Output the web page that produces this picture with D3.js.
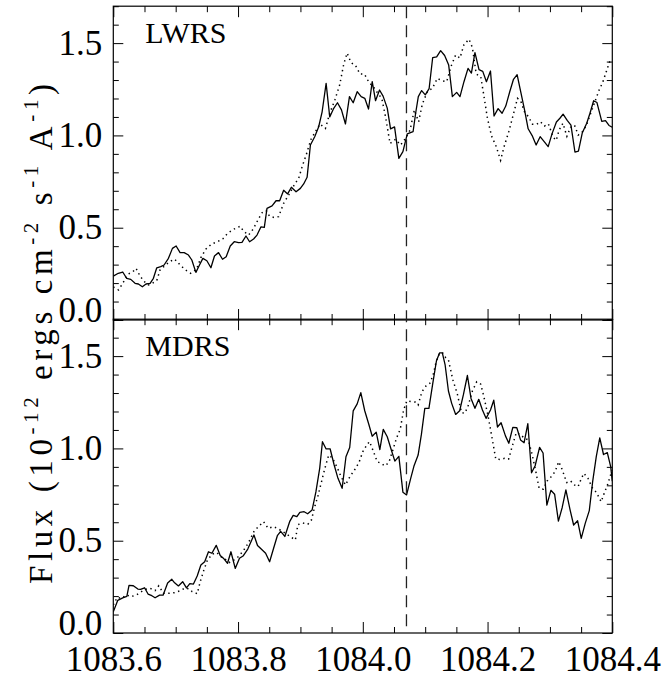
<!DOCTYPE html>
<html>
<head>
<meta charset="utf-8">
<script src="https://cdn.jsdelivr.net/npm/d3@7"></script>
<style>
  body { margin: 0; background: #fff; }
  svg { display: block; }
  text { font-family: "Liberation Serif", "Times New Roman", serif; fill: #000; }
</style>
</head>
<body>
<svg id="chart" width="665" height="688"></svg>
<script>
// ---- data: flux (1e-12 erg cm^-2 s^-1 A^-1) against wavelength (A) ----
const xTicks = [1083.6, 1083.8, 1084.0, 1084.2, 1084.4];
const yTicks = [0.0, 0.5, 1.0, 1.5];
const markerWave = 1084.07;
const panelNames = ["LWRS", "MDRS"];

const lwrsSolidWave = [1083.6000,1083.6080,1083.6151,1083.6215,1083.6280,1083.6349,1083.6402,1083.6466,1083.6525,1083.6590,1083.6643,1083.6697,1083.6761,1083.6814,1083.6884,1083.6948,1083.7007,1083.7071,1083.7136,1083.7205,1083.7259,1083.7324,1083.7382,1083.7436,1083.7500,1083.7565,1083.7622,1083.7687,1083.7751,1083.7810,1083.7875,1083.7939,1083.8008,1083.8063,1083.8127,1083.8185,1083.8249,1083.8304,1083.8368,1083.8421,1083.8464,1083.8545,1083.8609,1083.8667,1083.8731,1083.8795,1083.8855,1083.8930,1083.8999,1083.9052,1083.9107,1083.9160,1083.9229,1083.9293,1083.9348,1083.9412,1083.9470,1083.9534,1083.9594,1083.9658,1083.9722,1083.9786,1083.9846,1083.9910,1083.9974,1084.0032,1084.0092,1084.0151,1084.0204,1084.0268,1084.0325,1084.0392,1084.0445,1084.0509,1084.0578,1084.0643,1084.0713,1084.0806,1084.0847,1084.0890,1084.0943,1084.1002,1084.1063,1084.1120,1084.1184,1084.1248,1084.1312,1084.1377,1084.1436,1084.1505,1084.1558,1084.1622,1084.1687,1084.1741,1084.1798,1084.1863,1084.1923,1084.1982,1084.2047,1084.2104,1084.2169,1084.2233,1084.2292,1084.2357,1084.2416,1084.2474,1084.2533,1084.2593,1084.2651,1084.2715,1084.2779,1084.2843,1084.2908,1084.2972,1084.3036,1084.3104,1084.3160,1084.3211,1084.3277,1084.3337,1084.3401,1084.3457,1084.3518,1084.3590,1084.3642,1084.3701,1084.3754,1084.3831,1084.3891,1084.3947,1084.4000];
const lwrsSolidFlux = [0.238,0.253,0.260,0.226,0.220,0.199,0.195,0.180,0.195,0.199,0.226,0.283,0.289,0.298,0.334,0.388,0.401,0.365,0.365,0.352,0.325,0.258,0.298,0.334,0.321,0.283,0.347,0.365,0.329,0.343,0.401,0.424,0.419,0.421,0.455,0.424,0.439,0.460,0.505,0.502,0.605,0.618,0.646,0.646,0.703,0.683,0.719,0.695,0.713,0.737,0.773,0.948,0.993,1.047,1.128,1.282,1.100,1.147,1.177,1.138,1.062,1.210,1.177,1.237,1.210,1.201,1.143,1.291,1.188,1.246,1.213,1.148,1.035,1.046,0.876,0.912,1.008,1.020,1.120,1.210,1.243,1.220,1.253,1.421,1.425,1.459,1.433,1.381,1.210,1.233,1.210,1.291,1.363,1.338,1.449,1.356,1.347,1.291,1.349,1.105,1.145,1.120,1.159,1.238,1.304,1.329,1.235,1.138,1.036,0.999,0.948,0.993,0.966,0.939,1.011,1.073,1.093,1.115,1.081,1.056,0.910,0.915,1.013,1.066,1.120,1.188,1.178,1.076,1.080,1.054,1.044];

const lwrsDotWave = [1083.6000,1083.6084,1083.6164,1083.6241,1083.6316,1083.6365,1083.6429,1083.6493,1083.6565,1083.6622,1083.6697,1083.6750,1083.6822,1083.6903,1083.6983,1083.7063,1083.7152,1083.7240,1083.7333,1083.7406,1083.7486,1083.7578,1083.7666,1083.7754,1083.7835,1083.7934,1083.8035,1083.8088,1083.8169,1083.8244,1083.8316,1083.8381,1083.8450,1083.8506,1083.8582,1083.8651,1083.8731,1083.8818,1083.8900,1083.8972,1083.9031,1083.9096,1083.9168,1083.9240,1083.9312,1083.9401,1083.9470,1083.9553,1083.9629,1083.9695,1083.9749,1083.9810,1083.9883,1083.9955,1084.0027,1084.0104,1084.0164,1084.0236,1084.0305,1084.0365,1084.0437,1084.0525,1084.0606,1084.0686,1084.0758,1084.0826,1084.0895,1084.0954,1084.1034,1084.1115,1084.1195,1084.1269,1084.1345,1084.1417,1084.1489,1084.1558,1084.1622,1084.1703,1084.1757,1084.1818,1084.1891,1084.1934,1084.1998,1084.2063,1084.2140,1084.2209,1084.2265,1084.2341,1084.2413,1084.2480,1084.2533,1084.2593,1084.2654,1084.2721,1084.2787,1084.2847,1084.2912,1084.2975,1084.3055,1084.3100,1084.3148,1084.3208,1084.3272,1084.3329,1084.3393,1084.3454,1084.3513,1084.3582,1084.3658,1084.3714,1084.3791,1084.3846,1084.3903,1084.3952,1084.4000];
const lwrsDotFlux = [0.179,0.163,0.206,0.249,0.262,0.280,0.238,0.209,0.190,0.198,0.214,0.271,0.293,0.316,0.330,0.301,0.272,0.253,0.274,0.339,0.385,0.412,0.424,0.439,0.470,0.492,0.508,0.481,0.460,0.493,0.540,0.580,0.593,0.562,0.555,0.560,0.632,0.681,0.731,0.768,0.834,0.898,0.978,1.020,1.062,1.038,1.120,1.193,1.273,1.387,1.446,1.395,1.379,1.333,1.332,1.284,1.267,1.230,1.200,1.100,0.956,0.979,0.948,0.984,1.029,1.138,1.074,1.169,1.237,1.255,1.309,1.296,1.291,1.376,1.436,1.419,1.492,1.521,1.476,1.333,1.318,1.230,1.093,0.998,0.939,0.865,0.939,1.021,1.113,1.201,1.185,1.128,1.102,1.061,1.060,1.074,1.051,1.063,0.989,0.973,1.029,1.066,0.995,1.043,1.056,1.002,1.016,1.052,1.124,1.176,1.248,1.287,1.345,1.395,1.414];

const mdrsSolidWave = [1083.6000,1083.6072,1083.6151,1083.6217,1083.6252,1083.6321,1083.6394,1083.6437,1083.6501,1083.6557,1083.6618,1083.6670,1083.6742,1083.6798,1083.6871,1083.6938,1083.6983,1083.7044,1083.7112,1083.7173,1083.7227,1083.7285,1083.7345,1083.7404,1083.7465,1083.7526,1083.7581,1083.7650,1083.7714,1083.7774,1083.7831,1083.7886,1083.7955,1083.8023,1083.8080,1083.8156,1083.8255,1083.8312,1083.8384,1083.8442,1083.8506,1083.8570,1083.8630,1083.8683,1083.8750,1083.8827,1083.8884,1083.8943,1083.8991,1083.9059,1083.9116,1083.9187,1083.9248,1083.9309,1083.9353,1083.9412,1083.9476,1083.9541,1083.9602,1083.9669,1083.9730,1083.9790,1083.9846,1083.9910,1083.9968,1084.0031,1084.0096,1084.0151,1084.0215,1084.0273,1084.0328,1084.0392,1084.0456,1084.0514,1084.0578,1084.0643,1084.0702,1084.0766,1084.0819,1084.0887,1084.0940,1084.0994,1084.1060,1084.1120,1084.1181,1084.1232,1084.1275,1084.1320,1084.1373,1084.1425,1084.1489,1084.1553,1084.1613,1084.1677,1084.1735,1084.1798,1084.1859,1084.1918,1084.1976,1084.2047,1084.2100,1084.2159,1084.2217,1084.2287,1084.2341,1084.2405,1084.2469,1084.2529,1084.2586,1084.2646,1084.2705,1084.2763,1084.2834,1084.2890,1084.2951,1084.3015,1084.3075,1084.3136,1084.3197,1084.3256,1084.3324,1084.3380,1084.3444,1084.3502,1084.3566,1084.3631,1084.3685,1084.3743,1084.3799,1084.3859,1084.3920,1084.3974,1084.4000];
const mdrsSolidFlux = [0.115,0.177,0.190,0.198,0.258,0.256,0.238,0.236,0.245,0.211,0.202,0.191,0.205,0.205,0.271,0.291,0.272,0.255,0.278,0.244,0.267,0.265,0.309,0.368,0.386,0.440,0.432,0.475,0.420,0.402,0.378,0.440,0.350,0.405,0.417,0.455,0.531,0.474,0.451,0.432,0.386,0.459,0.527,0.551,0.523,0.603,0.637,0.630,0.654,0.657,0.646,0.666,0.764,0.892,1.036,0.997,0.998,0.910,0.838,0.784,0.955,1.005,1.203,1.241,1.302,1.204,1.131,1.066,1.088,0.993,1.103,1.063,0.993,0.931,0.957,0.763,0.748,0.835,0.903,0.964,1.077,1.217,1.217,1.348,1.475,1.518,1.518,1.452,1.311,1.244,1.184,1.204,1.291,1.395,1.271,1.217,1.266,1.208,1.163,1.208,1.261,1.116,1.139,1.068,1.028,1.114,1.112,1.046,1.031,1.134,0.868,0.906,1.006,0.975,0.693,0.773,0.752,0.606,0.680,0.775,0.666,0.585,0.608,0.513,0.594,0.663,0.820,0.955,1.057,0.967,0.977,0.901,0.823];

const mdrsDotWave = [1083.6000,1083.6064,1083.6135,1083.6209,1083.6288,1083.6376,1083.6469,1083.6533,1083.6590,1083.6670,1083.6729,1083.6803,1083.6895,1083.6991,1083.7080,1083.7152,1083.7224,1083.7264,1083.7345,1083.7398,1083.7452,1083.7505,1083.7581,1083.7658,1083.7730,1083.7778,1083.7859,1083.7931,1083.8003,1083.8084,1083.8169,1083.8260,1083.8333,1083.8410,1083.8482,1083.8570,1083.8651,1083.8742,1083.8831,1083.8919,1083.8959,1083.9039,1083.9120,1083.9176,1083.9229,1083.9280,1083.9337,1083.9390,1083.9454,1083.9513,1083.9589,1083.9647,1083.9722,1083.9794,1083.9867,1083.9939,1084.0000,1084.0067,1084.0108,1084.0172,1084.0231,1084.0296,1084.0353,1084.0418,1084.0477,1084.0541,1084.0601,1084.0654,1084.0707,1084.0779,1084.0839,1084.0887,1084.0948,1084.1015,1084.1075,1084.1128,1084.1176,1084.1224,1084.1275,1084.1328,1084.1373,1084.1444,1084.1516,1084.1582,1084.1634,1084.1685,1084.1757,1084.1826,1084.1891,1084.1944,1084.2008,1084.2071,1084.2132,1084.2207,1084.2272,1084.2337,1084.2394,1084.2461,1084.2525,1084.2593,1084.2654,1084.2713,1084.2769,1084.2827,1084.2895,1084.2956,1084.3020,1084.3083,1084.3141,1084.3195,1084.3269,1084.3332,1084.3385,1084.3452,1084.3505,1084.3545,1084.3610,1084.3677,1084.3746,1084.3822,1084.3871,1084.3928,1084.3984,1084.4000];
const mdrsDotFlux = [0.152,0.193,0.188,0.206,0.197,0.207,0.228,0.238,0.242,0.230,0.256,0.215,0.215,0.219,0.230,0.244,0.238,0.224,0.213,0.283,0.341,0.391,0.427,0.436,0.412,0.405,0.382,0.395,0.413,0.445,0.490,0.553,0.578,0.603,0.567,0.576,0.563,0.544,0.523,0.504,0.587,0.596,0.589,0.612,0.684,0.742,0.818,0.890,0.964,0.948,0.897,0.850,0.802,0.847,0.883,0.924,0.982,1.020,1.037,0.982,0.928,0.919,0.905,0.924,0.986,1.056,1.105,1.208,1.258,1.253,1.251,1.235,1.307,1.339,1.353,1.398,1.470,1.510,1.520,1.492,1.479,1.371,1.294,1.194,1.190,1.226,1.311,1.361,1.348,1.276,1.176,1.059,0.942,0.940,0.946,0.942,1.009,1.086,1.075,1.055,1.046,0.969,0.883,0.784,0.779,0.824,0.847,0.874,0.928,0.887,0.815,0.824,0.803,0.793,0.838,0.865,0.838,0.788,0.761,0.711,0.758,0.807,0.869,0.883];

// ---- layout ----
const svg = d3.select("#chart");
const plotLeft = 113.3, plotRight = 612.3;
const panels = [
  { name: panelNames[0], top: 6.2, bottom: 320,
    solid: d3.zip(lwrsSolidWave, lwrsSolidFlux), dotted: d3.zip(lwrsDotWave, lwrsDotFlux), showX: false },
  { name: panelNames[1], top: 319.2, bottom: 633,
    solid: d3.zip(mdrsSolidWave, mdrsSolidFlux), dotted: d3.zip(mdrsDotWave, mdrsDotFlux), showX: true }
];

const x = d3.scaleLinear().domain([xTicks[0], xTicks[xTicks.length - 1]]).range([plotLeft, plotRight]);
const xMinor = d3.range(0, 17).map(i => 1083.6 + i * 0.05).filter(v => !xTicks.some(t => Math.abs(t - v) < 1e-6));
const yMinor = d3.range(0, 18).map(i => i * 0.1).filter(v => !yTicks.some(t => Math.abs(t - v) < 1e-6));

const fmt = d3.format(".1f");
const majorX = 11, minorX = 6, majorY = 10, minorY = 5.5;

function styleAxis(g) {
  g.select(".domain").remove();
  g.selectAll(".tick line").attr("stroke", "#000").attr("stroke-width", 1);
  g.selectAll(".tick text").attr("font-size", 35).attr("font-family", "Liberation Serif, serif").attr("fill", "#000");
}

panels.forEach((p, i) => {
  const y = d3.scaleLinear().domain([0, 1.7]).range([p.bottom, p.top]);
  const h = p.bottom - p.top;
  const clipId = "clip" + i;
  svg.append("clipPath").attr("id", clipId)
    .append("rect").attr("x", plotLeft).attr("y", p.top).attr("width", plotRight - plotLeft).attr("height", h);

  // left axis with labels
  const gl = svg.append("g").attr("transform", `translate(${plotLeft},0)`)
    .call(d3.axisLeft(y).tickValues(yTicks).tickFormat(fmt).tickSizeInner(-majorY).tickSizeOuter(0).tickPadding(11));
  styleAxis(gl);
  gl.selectAll(".tick text").filter(d => d === 0).attr("transform", "translate(0,-10)");
  const glm = svg.append("g").attr("transform", `translate(${plotLeft},0)`)
    .call(d3.axisLeft(y).tickValues(yMinor).tickFormat("").tickSizeInner(-minorY).tickSizeOuter(0));
  styleAxis(glm);

  // right axis, ticks only
  const gr = svg.append("g").attr("transform", `translate(${plotRight},0)`)
    .call(d3.axisRight(y).tickValues(yTicks).tickFormat("").tickSizeInner(-majorY).tickSizeOuter(0));
  styleAxis(gr);
  const grm = svg.append("g").attr("transform", `translate(${plotRight},0)`)
    .call(d3.axisRight(y).tickValues(yMinor).tickFormat("").tickSizeInner(-minorY).tickSizeOuter(0));
  styleAxis(grm);

  // bottom axis
  const gb = svg.append("g").attr("transform", `translate(0,${p.bottom})`)
    .call(d3.axisBottom(x).tickValues(xTicks).tickFormat(p.showX ? fmt : "").tickSizeInner(-majorX).tickSizeOuter(0).tickPadding(13));
  styleAxis(gb);
  const gbm = svg.append("g").attr("transform", `translate(0,${p.bottom})`)
    .call(d3.axisBottom(x).tickValues(xMinor).tickFormat("").tickSizeInner(-minorX).tickSizeOuter(0));
  styleAxis(gbm);

  // top axis, ticks only
  const gt = svg.append("g").attr("transform", `translate(0,${p.top})`)
    .call(d3.axisTop(x).tickValues(xTicks).tickFormat("").tickSizeInner(-majorX).tickSizeOuter(0));
  styleAxis(gt);
  const gtm = svg.append("g").attr("transform", `translate(0,${p.top})`)
    .call(d3.axisTop(x).tickValues(xMinor).tickFormat("").tickSizeInner(-minorX).tickSizeOuter(0));
  styleAxis(gtm);

  // frame
  svg.append("rect").attr("x", plotLeft).attr("y", p.top).attr("width", plotRight - plotLeft).attr("height", h)
    .attr("fill", "none").attr("stroke", "#000").attr("stroke-width", 1.2);

  const line = d3.line().x(d => x(d[0])).y(d => y(d[1]));
  const lines = svg.append("g").attr("clip-path", `url(#${clipId})`);
  lines.append("path").datum(p.dotted).attr("d", line)
    .attr("fill", "none").attr("stroke", "#000").attr("stroke-width", 1.5)
    .attr("stroke-dasharray", "1.4 3.6");
  lines.append("path").datum(p.solid).attr("d", line)
    .attr("fill", "none").attr("stroke", "#000").attr("stroke-width", 1.3)
    .attr("stroke-linejoin", "round");

  // panel name
  svg.append("text").attr("x", plotLeft + 32).attr("y", p.top + 37)
    .attr("font-size", 30).text(p.name);
});

// rest wavelength marker across both panels
svg.append("line")
  .attr("x1", x(markerWave)).attr("x2", x(markerWave))
  .attr("y1", panels[0].top).attr("y2", panels[1].bottom)
  .attr("stroke", "#222").attr("stroke-width", 1.3).attr("stroke-dasharray", "12 7");

// y-axis title
const title = svg.append("text")
  .attr("transform", "translate(52,334) rotate(-90)")
  .attr("text-anchor", "middle").attr("font-size", 33)
  .attr("textLength", 500).attr("lengthAdjust", "spacing");
const parts = [["Flux (10", false], ["-12", true], [" ergs cm", false], ["-2", true], [" s", false], ["-1", true], [" A", false], ["-1", true], [")", false]];
parts.forEach(([t, sup], k) => {
  const ts = title.append("tspan").text(t);
  if (sup) ts.attr("font-size", 21).attr("dy", -14);
  else if (k > 0) ts.attr("dy", 14);
});
</script>
</body>
</html>
